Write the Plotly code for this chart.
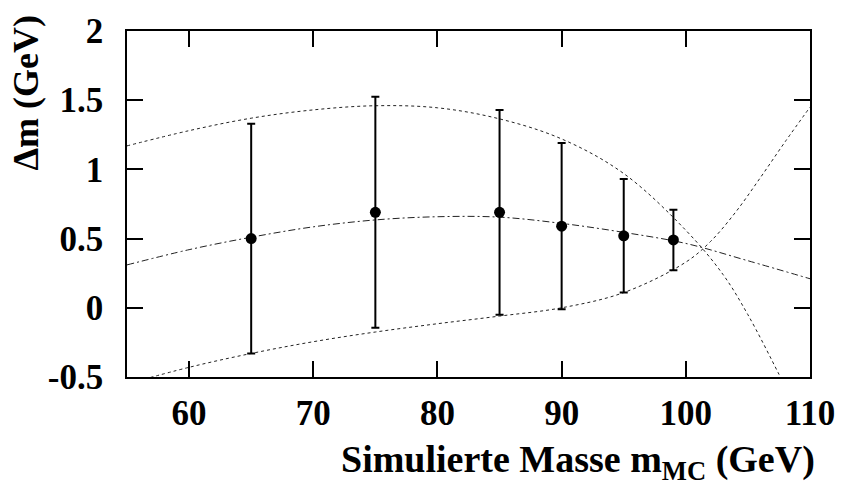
import plotly.graph_objects as go

# Data points (simulated mass vs. mass shift)
mass = [65, 75, 85, 90, 95, 99]
delta_m = [0.50, 0.69, 0.69, 0.59, 0.52, 0.49]
delta_err = [0.83, 0.835, 0.74, 0.60, 0.41, 0.218]

# Central fit curve (dash-dot)
fit_x = [55, 60, 65, 70, 75, 80, 85, 90, 95, 100, 105, 110]
fit_y = [0.31, 0.42, 0.51, 0.585, 0.635, 0.658, 0.655, 0.61, 0.545, 0.465, 0.34, 0.21]

# Upper band curve (dotted)
up_x = [55, 60, 65, 70, 75, 80, 85, 90, 95, 100, 103, 105, 107.5, 108.5]
up_y = [1.17, 1.28, 1.37, 1.43, 1.46, 1.445, 1.365, 1.22, 0.97, 0.56, 0.24, -0.05, -0.48, -0.66]

# Lower band curve (dotted)
lo_x = [55, 60, 65, 70, 75, 80, 85, 90, 95, 100, 102, 104, 106, 108, 110]
lo_y = [-0.55, -0.43, -0.33, -0.245, -0.175, -0.115, -0.06, 0.0, 0.11, 0.33, 0.48, 0.69, 0.94, 1.20, 1.45]

x_ticks = [60, 70, 80, 90, 100, 110]
y_ticks = [-0.5, 0, 0.5, 1, 1.5, 2]
y_tick_text = ["-0.5", "0", "0.5", "1", "1.5", "2"]

FONT = "Liberation Serif"

fig = go.Figure()
fig.add_trace(go.Scatter(x=up_x, y=up_y, mode="lines", line=dict(color="#222", width=1, dash="3px,3px", shape="spline"), hoverinfo="skip"))
fig.add_trace(go.Scatter(x=lo_x, y=lo_y, mode="lines", line=dict(color="#222", width=1, dash="3px,3px", shape="spline"), hoverinfo="skip"))
fig.add_trace(go.Scatter(x=fit_x, y=fit_y, mode="lines", line=dict(color="#222", width=1, dash="7px,3px,2px,3px", shape="spline"), hoverinfo="skip"))
fig.add_trace(go.Scatter(
    x=mass, y=delta_m, mode="markers",
    marker=dict(color="black", size=11, symbol="circle"),
    error_y=dict(type="data", array=delta_err, visible=True, color="black", thickness=2, width=4),
))

axis_common = dict(
    showline=True, linecolor="black", linewidth=1.5, mirror="ticks",
    ticks="inside", ticklen=16, tickwidth=1.5, tickcolor="black",
    showgrid=False, zeroline=False,
    tickfont=dict(family=FONT, size=35, color="black", weight="bold"),
)

fig.update_xaxes(range=[55, 110], tickvals=x_ticks, ticktext=[str(v) for v in x_ticks], ticklabelstandoff=4, **axis_common)
fig.update_yaxes(range=[-0.5, 2], tickvals=y_ticks, ticktext=y_tick_text, ticklabelstandoff=15, **axis_common)

fig.add_annotation(
    text="Simulierte Masse m<sub>MC</sub> (GeV)", xref="paper", yref="paper",
    x=1.01, y=-0.17, xanchor="right", yanchor="top", showarrow=False,
    font=dict(family=FONT, size=38, color="black", weight="bold"),
)
fig.add_annotation(
    text="Δm (GeV)", xref="paper", yref="paper", textangle=-90,
    x=-0.148, y=0.822, xanchor="center", yanchor="middle", showarrow=False,
    font=dict(family=FONT, size=36, color="black", weight="bold"),
)

fig.update_layout(
    width=847, height=494,
    margin=dict(l=127, r=33, t=27, b=117),
    paper_bgcolor="white", plot_bgcolor="white",
    showlegend=False,
)

fig.write_html(
    "out.html",
    config={"displayModeBar": False},
    post_script="document.body.style.margin='0';document.body.style.padding='0';",
)
